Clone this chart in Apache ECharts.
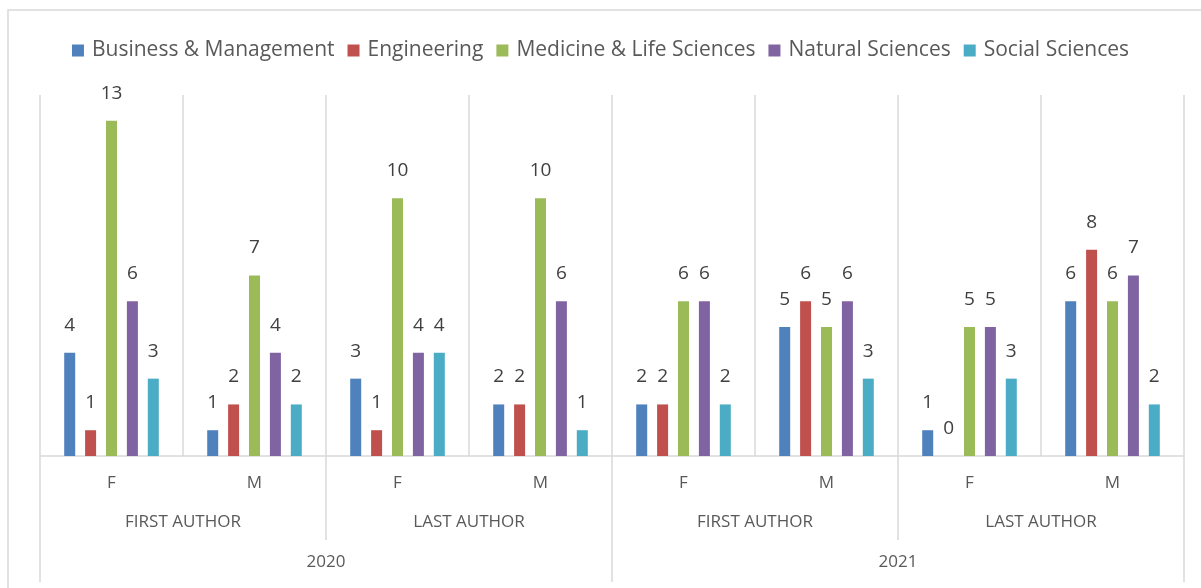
<!DOCTYPE html>
<html>
<head>
<meta charset="utf-8">
<script src="https://cdn.jsdelivr.net/npm/echarts@6/dist/echarts.min.js"></script>
<style>
  html, body { margin: 0; padding: 0; background: #fff; }
  #main { width: 1201px; height: 588px; }
</style>
</head>
<body>
<div id="main"></div>
<script>
// category levels (bottom axis)
const genders = ['F', 'M', 'F', 'M', 'F', 'M', 'F', 'M'];
const roles = ['FIRST AUTHOR', 'LAST AUTHOR', 'FIRST AUTHOR', 'LAST AUTHOR'];
const years = ['2020', '2021'];

// series values, one per gender column
const business = [4, 1, 3, 2, 2, 5, 1, 6];
const engineering = [1, 2, 1, 2, 2, 6, 0, 8];
const medicine = [13, 7, 10, 10, 6, 5, 5, 6];
const natural = [6, 4, 4, 6, 6, 6, 5, 7];
const social = [3, 2, 4, 1, 2, 3, 3, 2];

const names = ['Business & Management', 'Engineering', 'Medicine & Life Sciences', 'Natural Sciences', 'Social Sciences'];
const colors = ['#4F81BD', '#C0504D', '#9BBB59', '#8064A2', '#4BACC6'];

const font = '"Open Sans", sans-serif';
const lineColor = '#d9d9d9';

let chart = echarts.init(document.getElementById('main'));

function makeSeries(name, data) {
  return {
    name: name,
    type: 'bar',
    xAxisIndex: 0,
    data: data,
    barWidth: 11,
    barGap: '90%',
    label: {
      show: true,
      position: 'top',
      distance: 18,
      color: '#404040',
      fontFamily: font,
      fontSize: 19
    }
  };
}

var option = {
  animation: false,
  color: colors,
  textStyle: { fontFamily: font },
  legend: {
    top: 35,
    left: 'center',
    itemWidth: 12,
    itemHeight: 12,
    itemGap: 13,
    icon: 'rect',
    textStyle: { color: '#595959', fontSize: 21, fontFamily: font, padding: [0, 0, 0, 3] }
  },
  grid: { left: 40, right: 17, top: 95, bottom: 132 },
  graphic: [{
    type: 'rect',
    shape: { x: 8, y: 10, width: 1400, height: 800 },
    style: { fill: null, stroke: lineColor, lineWidth: 1.5 },
    silent: true
  }],
  xAxis: [{
    type: 'category',
    data: genders,
    axisLine: { lineStyle: { color: lineColor, width: 1.5 } },
    axisTick: { show: false },
    splitLine: { show: true, interval: 0, lineStyle: { color: lineColor, width: 1.5 } },
    axisLabel: { interval: 0, margin: 19, color: '#595959', fontSize: 17, fontFamily: font }
  }, {
    type: 'category',
    data: roles,
    position: 'bottom',
    axisLine: { show: false },
    axisTick: { show: true, interval: 0, length: 84, lineStyle: { color: lineColor, width: 1.5 } },
    axisLabel: { interval: 0, margin: 58, color: '#595959', fontSize: 17, fontFamily: font }
  }, {
    type: 'category',
    data: years,
    position: 'bottom',
    axisLine: { show: false },
    axisTick: { show: true, interval: 0, length: 126, lineStyle: { color: lineColor, width: 1.5 } },
    axisLabel: { interval: 0, margin: 98, color: '#595959', fontSize: 17, fontFamily: font }
  }],
  yAxis: {
    type: 'value',
    min: 0,
    max: 14,
    show: false,
    splitLine: { show: false }
  },
  series: [
    makeSeries(names[0], business),
    makeSeries(names[1], engineering),
    makeSeries(names[2], medicine),
    makeSeries(names[3], natural),
    makeSeries(names[4], social)
  ]
};

chart.setOption(option);
</script>
</body>
</html>
